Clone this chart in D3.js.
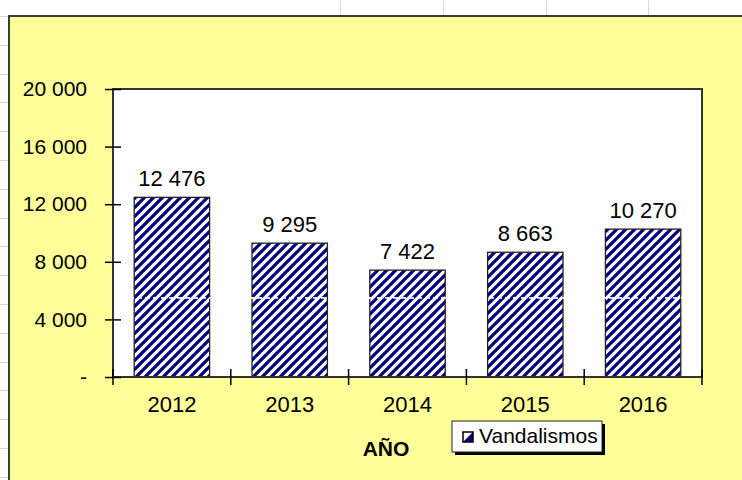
<!DOCTYPE html>
<html>
<head>
<meta charset="utf-8">
<script src="https://cdn.jsdelivr.net/npm/d3@7"></script>
<style>
  body { margin: 0; background: #fff; }
  svg { display: block; font-family: "Liberation Sans", Arial, sans-serif; }
</style>
</head>
<body>
<svg width="742" height="480"></svg>
<script>
// data
const years = ["2012", "2013", "2014", "2015", "2016"];
const vandalismos = [12476, 9295, 7422, 8663, 10270];
const seriesName = "Vandalismos";
const yTicks = [0, 4000, 8000, 12000, 16000, 20000];
const xTitle = "AÑO";
const dashValue = 5500; // white dashed line seen across the bars

var svg = d3.select("svg");
var W = 742, H = 480;
var plot = { left: 113, top: 89, right: 702, bottom: 377 };

var loc = d3.formatLocale({ decimal: ",", thousands: " ", grouping: [3], currency: ["", ""] });
var fmt = loc.format(",d");

// spreadsheet grid peeking out round the chart
var grid = svg.append("g").attr("stroke", "#d6d6d6").attr("stroke-width", 1);
[340, 443, 546, 648].forEach((gx) => {
  grid.append("line").attr("x1", gx + 0.5).attr("x2", gx + 0.5).attr("y1", 0).attr("y2", 16);
});
d3.range(16, H, 28.8).forEach((gy) => {
  grid.append("line").attr("x1", 0).attr("x2", 9).attr("y1", Math.round(gy) + 0.5).attr("y2", Math.round(gy) + 0.5);
});

// pattern for the bars
var defs = svg.append("defs");
var P = 9;
defs
  .append("pattern")
  .attr("id", "hatch")
  .attr("patternUnits", "userSpaceOnUse")
  .attr("width", P)
  .attr("height", P)
  .call((p) => {
    p.append("rect").attr("width", P).attr("height", P).attr("fill", "#fff");
    p.append("path")
      .attr("d", `M${-P / 2},${P / 2} L${P / 2},${-P / 2} M0,${P} L${P},0 M${P / 2},${P * 1.5} L${P * 1.5},${P / 2}`)
      .attr("stroke", "#000080")
      .attr("stroke-width", 3.3);
  });

// chart area
svg
  .append("rect")
  .attr("x", 9)
  .attr("y", 16)
  .attr("width", 800)
  .attr("height", 600)
  .attr("fill", "#ffff99")
  .attr("stroke", "#3a3a3a")
  .attr("stroke-width", 2);

var x = d3
  .scaleBand()
  .domain(years)
  .range([plot.left, plot.right])
  .paddingInner(0.36)
  .paddingOuter(0.18);

var y = d3.scaleLinear().domain([0, 20000]).range([plot.bottom, plot.top]);

// plot area
svg
  .append("rect")
  .attr("x", plot.left)
  .attr("y", plot.top)
  .attr("width", plot.right - plot.left)
  .attr("height", plot.bottom - plot.top)
  .attr("fill", "#fff");

// bars
svg
  .append("g")
  .selectAll("rect")
  .data(vandalismos)
  .enter()
  .append("rect")
  .attr("x", (d, i) => x(years[i]))
  .attr("y", (d) => y(d))
  .attr("width", x.bandwidth())
  .attr("height", (d) => y(0) - y(d))
  .attr("fill", "url(#hatch)")
  .attr("stroke", "#222")
  .attr("stroke-width", 1.3);

// white dashed line across the plot
svg
  .append("line")
  .attr("x1", plot.left)
  .attr("x2", plot.right)
  .attr("y1", y(dashValue))
  .attr("y2", y(dashValue))
  .attr("stroke", "#fff")
  .attr("stroke-width", 1.8)
  .attr("stroke-dasharray", "5,3");

// plot border
svg
  .append("rect")
  .attr("x", plot.left)
  .attr("y", plot.top)
  .attr("width", plot.right - plot.left)
  .attr("height", plot.bottom - plot.top)
  .attr("fill", "none")
  .attr("stroke", "#333")
  .attr("stroke-width", 2);

// value labels
svg
  .append("g")
  .selectAll("text")
  .data(vandalismos)
  .enter()
  .append("text")
  .attr("x", (d, i) => x(years[i]) + x.bandwidth() / 2)
  .attr("y", (d) => y(d) - 11)
  .attr("text-anchor", "middle")
  .attr("font-size", 22)
  .attr("fill", "#000")
  .text((d) => fmt(d));

// y axis
var yAxis = svg
  .append("g")
  .attr("transform", `translate(${plot.left},0)`)
  .call(
    d3
      .axisLeft(y)
      .tickValues(yTicks)
      .tickSize(8)
      .tickPadding(18)
      .tickFormat((d) => (d === 0 ? "-" : fmt(d)))
  );
yAxis.select(".domain").remove();
yAxis.selectAll(".tick line").attr("x1", 8).attr("stroke", "#000").attr("stroke-width", 1.5);
yAxis.selectAll(".tick text").attr("font-size", 21).attr("font-family", null).attr("fill", "#000");

// x axis
var xAxis = svg
  .append("g")
  .attr("transform", `translate(0,${plot.bottom})`)
  .call(d3.axisBottom(x).tickSize(0).tickPadding(19));
xAxis.select(".domain").remove();
xAxis.selectAll(".tick text").attr("font-size", 22).attr("font-family", null).attr("fill", "#000");

var bounds = years.map((d) => x(d) - (x.step() * x.paddingInner()) / 2).concat([plot.right]);
bounds[0] = plot.left;
svg
  .append("g")
  .selectAll("line")
  .data(bounds)
  .enter()
  .append("line")
  .attr("x1", (d) => d)
  .attr("x2", (d) => d)
  .attr("y1", plot.bottom - 8)
  .attr("y2", plot.bottom + 8)
  .attr("stroke", "#000")
  .attr("stroke-width", 1.5);

// axis title
svg
  .append("text")
  .attr("x", 386)
  .attr("y", 456)
  .attr("text-anchor", "middle")
  .attr("font-size", 21)
  .attr("font-weight", "bold")
  .attr("fill", "#000")
  .text(xTitle);

// legend
var lg = svg.append("g").attr("transform", "translate(452,421)");
lg.append("rect").attr("x", 3).attr("y", 3).attr("width", 150).attr("height", 31).attr("fill", "#000");
lg.append("rect")
  .attr("width", 150)
  .attr("height", 31)
  .attr("fill", "#fff")
  .attr("stroke", "#222")
  .attr("stroke-width", 1);
lg.append("rect").attr("x", 11).attr("y", 11).attr("width", 10).attr("height", 10).attr("fill", "#fff");
lg.append("path").attr("d", "M21,11 L21,21 L11,21 Z").attr("fill", "#000080");
lg.append("rect")
  .attr("x", 11)
  .attr("y", 11)
  .attr("width", 10)
  .attr("height", 10)
  .attr("fill", "none")
  .attr("stroke", "#000")
  .attr("stroke-width", 1.5);
lg.append("text")
  .attr("x", 27)
  .attr("y", 22)
  .attr("font-size", 21)
  .attr("fill", "#000")
  .text(seriesName);
</script>
</body>
</html>
